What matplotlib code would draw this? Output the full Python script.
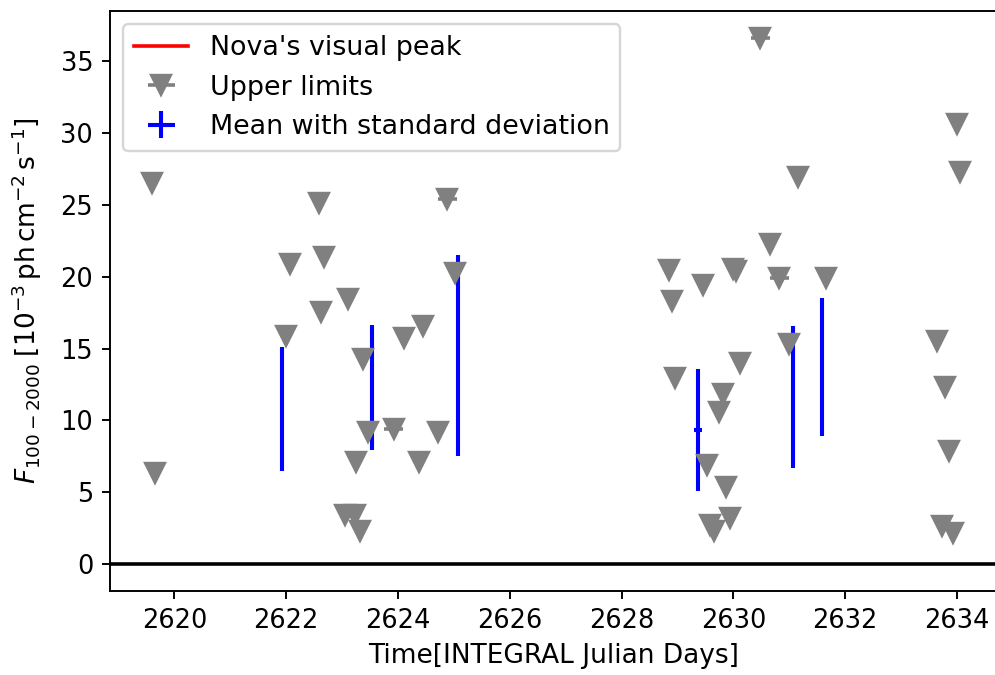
import numpy as np
import matplotlib
matplotlib.use('Agg')
import matplotlib.pyplot as plt

# upper limits (INTEGRAL Julian days, 1e-3 ph cm^-2 s^-1)
ul_t = [2619.59, 2619.65, 2621.99, 2622.06, 2622.58, 2622.63, 2622.68, 2623.11,
        2623.05, 2623.23, 2623.24, 2623.31, 2623.37, 2623.47, 2623.92, 2624.11,
        2624.37, 2624.44, 2624.71, 2624.88, 2625.02,
        2628.85, 2628.90, 2628.96, 2629.46, 2629.52, 2629.59, 2629.66, 2629.75,
        2629.81, 2629.87, 2629.93, 2629.99, 2630.05, 2630.12, 2630.48, 2630.65,
        2630.82, 2630.99, 2631.15, 2631.65,
        2633.64, 2633.73, 2633.79, 2633.86, 2633.93, 2634.00, 2634.06]
ul_f = [26.55, 6.34, 15.87, 20.86, 25.12, 17.54, 21.40, 18.43,
        3.39, 3.39, 7.09, 2.28, 14.24, 9.16, 9.39, 15.70,
        7.09, 16.56, 9.20, 25.39, 20.24,
        20.47, 18.31, 12.92, 19.42, 6.88, 2.70, 2.30, 10.59,
        11.87, 5.37, 3.23, 20.51, 20.40, 13.97, 36.61, 22.28,
        19.89, 15.29, 26.97, 19.93,
        15.54, 2.65, 12.34, 7.88, 2.19, 30.66, 27.27]
ul_dt = [0.08] * len(ul_t)
for i in (14, 19, 35, 37):
    ul_dt[i] = 0.17

# means with standard deviation
mean_t = [2621.92, 2623.53, 2625.07, 2629.36, 2631.06, 2631.58]
mean_f = [10.8, 12.3, 14.5, 9.35, 11.64, 13.7]
mean_std = [4.32, 4.33, 7.0, 4.26, 4.95, 4.79]
mean_dt = [0.02, 0.02, 0.02, 0.07, 0.02, 0.02]

nova_peak = 2617.5

dpi = 173
fig = plt.figure(figsize=(995 / dpi, 675 / dpi), dpi=dpi)
ax = fig.add_axes([110 / 995, 84 / 675, 887 / 995, 580 / 675])

peak = ax.axvline(nova_peak, color='red', lw=1.5, label="Nova's visual peak")
means = ax.errorbar(mean_t, mean_f, yerr=mean_std, xerr=mean_dt, fmt='none',
                    ecolor='blue', elinewidth=1.7, label='Mean with standard deviation')
uls = ax.errorbar(ul_t, ul_f, xerr=ul_dt, fmt='v', color='gray', ms=8.3,
                  elinewidth=1.5, label='Upper limits')
ax.axhline(0, color='black', lw=1.5)

ax.set_xlim(2618.846, 2634.716)
ax.set_ylim(-1.88, 38.5)
ax.set_xticks(np.arange(2620, 2635, 2))
ax.set_yticks(np.arange(0, 36, 5))
ax.tick_params(labelsize=10.7)

ax.set_xlabel('Time[INTEGRAL Julian Days]', fontsize=11)
ax.set_ylabel(r'$F_{100-2000}\;[10^{-3}\,\mathrm{ph\,cm^{-2}\,s^{-1}}]$', fontsize=11,
              labelpad=7)

ax.legend([peak, uls, means],
          ["Nova's visual peak", 'Upper limits', 'Mean with standard deviation'],
          loc='upper left', fontsize=11.2)

fig.savefig('out.png', dpi=dpi)
